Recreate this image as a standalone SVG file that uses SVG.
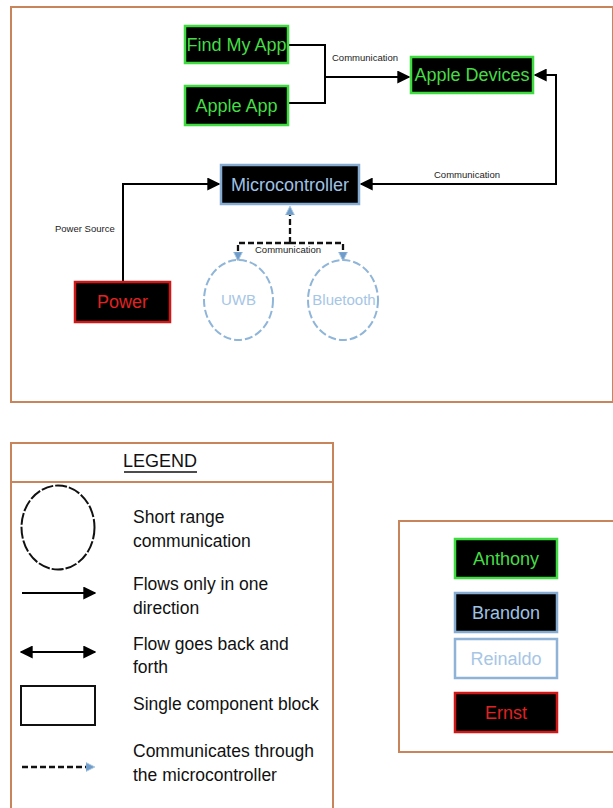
<svg xmlns="http://www.w3.org/2000/svg" width="613" height="808" viewBox="0 0 613 808">
<style>
  text { font-family: "Liberation Sans", Arial, sans-serif; }
  .frame { fill: #ffffff; stroke: #c8845a; stroke-width: 2; }
  .gbox { fill: #000000; stroke: #3fdc3f; stroke-width: 2.5; }
  .bbox { fill: #000000; stroke: #86acd2; stroke-width: 2.5; }
  .wbox { fill: #ffffff; stroke: #8fb3d6; stroke-width: 2.5; }
  .rbox { fill: #000000; stroke: #d01818; stroke-width: 2.5; }
  .gt { fill: #45dd45; font-size: 18px; text-anchor: middle; }
  .bt { fill: #9fc2e4; font-size: 18px; text-anchor: middle; }
  .rt { fill: #e02222; font-size: 18px; text-anchor: middle; }
  .lt { fill: #a6c6e6; font-size: 15px; text-anchor: middle; }
  .lt18 { fill: #a6c6e6; font-size: 18px; text-anchor: middle; }
  .small { fill: #222222; font-size: 9.5px; }
  .leg { fill: #111111; font-size: 17.5px; }
  .title { fill: #111111; font-size: 18px; text-anchor: middle; }
  .line { fill: none; stroke: #000000; stroke-width: 2; }
  .dash { fill: none; stroke: #111111; stroke-width: 2.3; stroke-dasharray: 6 3; }
  .circ { fill: none; stroke: #8fb5d8; stroke-width: 2; stroke-dasharray: 8 3; }
</style>
<defs>
  <marker id="ah" viewBox="0 0 10 10" refX="9" refY="5" markerWidth="6.5" markerHeight="6.5" orient="auto-start-reverse" markerUnits="strokeWidth">
    <path d="M0,0 L10,5 L0,10 Z" fill="#000000"/>
  </marker>
  <marker id="bh" viewBox="0 0 10 10" refX="9" refY="5" markerWidth="4" markerHeight="4" orient="auto-start-reverse" markerUnits="strokeWidth">
    <path d="M0,0 L10,5 L0,10 Z" fill="#6f9cc8" stroke="#a9c8e6" stroke-width="1"/>
  </marker>
</defs>

<rect class="frame" x="11" y="7" width="602" height="395"/>
<rect class="frame" x="11" y="443" width="322" height="368"/>
<line x1="11" y1="482" x2="333" y2="482" stroke="#c8845a" stroke-width="2"/>
<rect class="frame" x="399" y="521" width="216" height="231"/>

<g id="connectors">
  <path class="line" d="M288,45 H325 V103 H288"/>
  <path class="line" d="M325,77 H409" marker-end="url(#ah)"/>
  <path class="line" d="M535,75 H556 V184 H361" marker-start="url(#ah)" marker-end="url(#ah)"/>
  <path class="line" d="M123,282 V184 H219" marker-end="url(#ah)"/>
  <path class="dash" d="M290,243 V207" marker-end="url(#bh)"/>
  <path class="dash" d="M290,243 H238 V260" marker-end="url(#bh)"/>
  <path class="dash" d="M290,243 H343 V260" marker-end="url(#bh)"/>
  <text class="small" x="332" y="61">Communication</text>
  <text class="small" x="434" y="178">Communication</text>
  <text class="small" x="55" y="232">Power Source</text>
  <text class="small" x="255" y="253">Communication</text>
</g>

<g id="find-my-app">
  <rect class="gbox" x="185" y="26" width="103" height="37"/>
  <text class="gt" x="236.5" y="51">Find My App</text>
</g>
<g id="apple-app">
  <rect class="gbox" x="185" y="86" width="103" height="39"/>
  <text class="gt" x="236.5" y="112">Apple App</text>
</g>
<g id="apple-devices">
  <rect class="gbox" x="411" y="57" width="122" height="36"/>
  <text class="gt" x="472" y="81">Apple Devices</text>
</g>
<g id="microcontroller">
  <rect class="bbox" x="221" y="165" width="138" height="39"/>
  <text class="bt" x="290" y="191">Microcontroller</text>
</g>
<g id="power">
  <rect class="rbox" x="75" y="282" width="95" height="40"/>
  <text class="rt" x="122.5" y="308">Power</text>
</g>
<g id="uwb">
  <ellipse class="circ" cx="238.5" cy="300" rx="34.5" ry="40"/>
  <text class="lt" x="238.5" y="305">UWB</text>
</g>
<g id="bluetooth">
  <ellipse class="circ" cx="343" cy="300" rx="35" ry="40"/>
  <text class="lt" x="344" y="305">Bluetooth</text>
</g>

<g id="legend">
  <text class="title" x="160" y="467">LEGEND</text>
  <line x1="124" y1="472" x2="197" y2="472" stroke="#111" stroke-width="1.3"/>
  <ellipse cx="58" cy="527.5" rx="36.5" ry="42" fill="none" stroke="#111" stroke-width="2" stroke-dasharray="12 2"/>
  <text class="leg" x="133" y="523">Short range</text>
  <text class="leg" x="133" y="547">communication</text>
  <path class="line" d="M22,593 H95" marker-end="url(#ah)"/>
  <text class="leg" x="133" y="590">Flows only in one</text>
  <text class="leg" x="133" y="614">direction</text>
  <path class="line" d="M21,652 H95" marker-start="url(#ah)" marker-end="url(#ah)"/>
  <text class="leg" x="133" y="650">Flow goes back and</text>
  <text class="leg" x="133" y="673">forth</text>
  <rect x="21" y="686" width="74" height="39" fill="none" stroke="#111" stroke-width="2"/>
  <text class="leg" x="133" y="710">Single component block</text>
  <path class="dash" d="M22,767 H94" marker-end="url(#bh)"/>
  <text class="leg" x="133" y="757">Communicates through</text>
  <text class="leg" x="133" y="781">the microcontroller</text>
</g>

<g id="anthony">
  <rect class="gbox" x="455" y="539" width="102" height="39"/>
  <text class="gt" x="506" y="565">Anthony</text>
</g>
<g id="brandon">
  <rect class="bbox" x="455" y="593" width="102" height="39"/>
  <text class="bt" x="506" y="619">Brandon</text>
</g>
<g id="reinaldo">
  <rect class="wbox" x="455" y="639" width="102" height="39"/>
  <text class="lt18" x="506" y="665">Reinaldo</text>
</g>
<g id="ernst">
  <rect class="rbox" x="455" y="693" width="102" height="39"/>
  <text class="rt" x="506" y="719">Ernst</text>
</g>
</svg>
